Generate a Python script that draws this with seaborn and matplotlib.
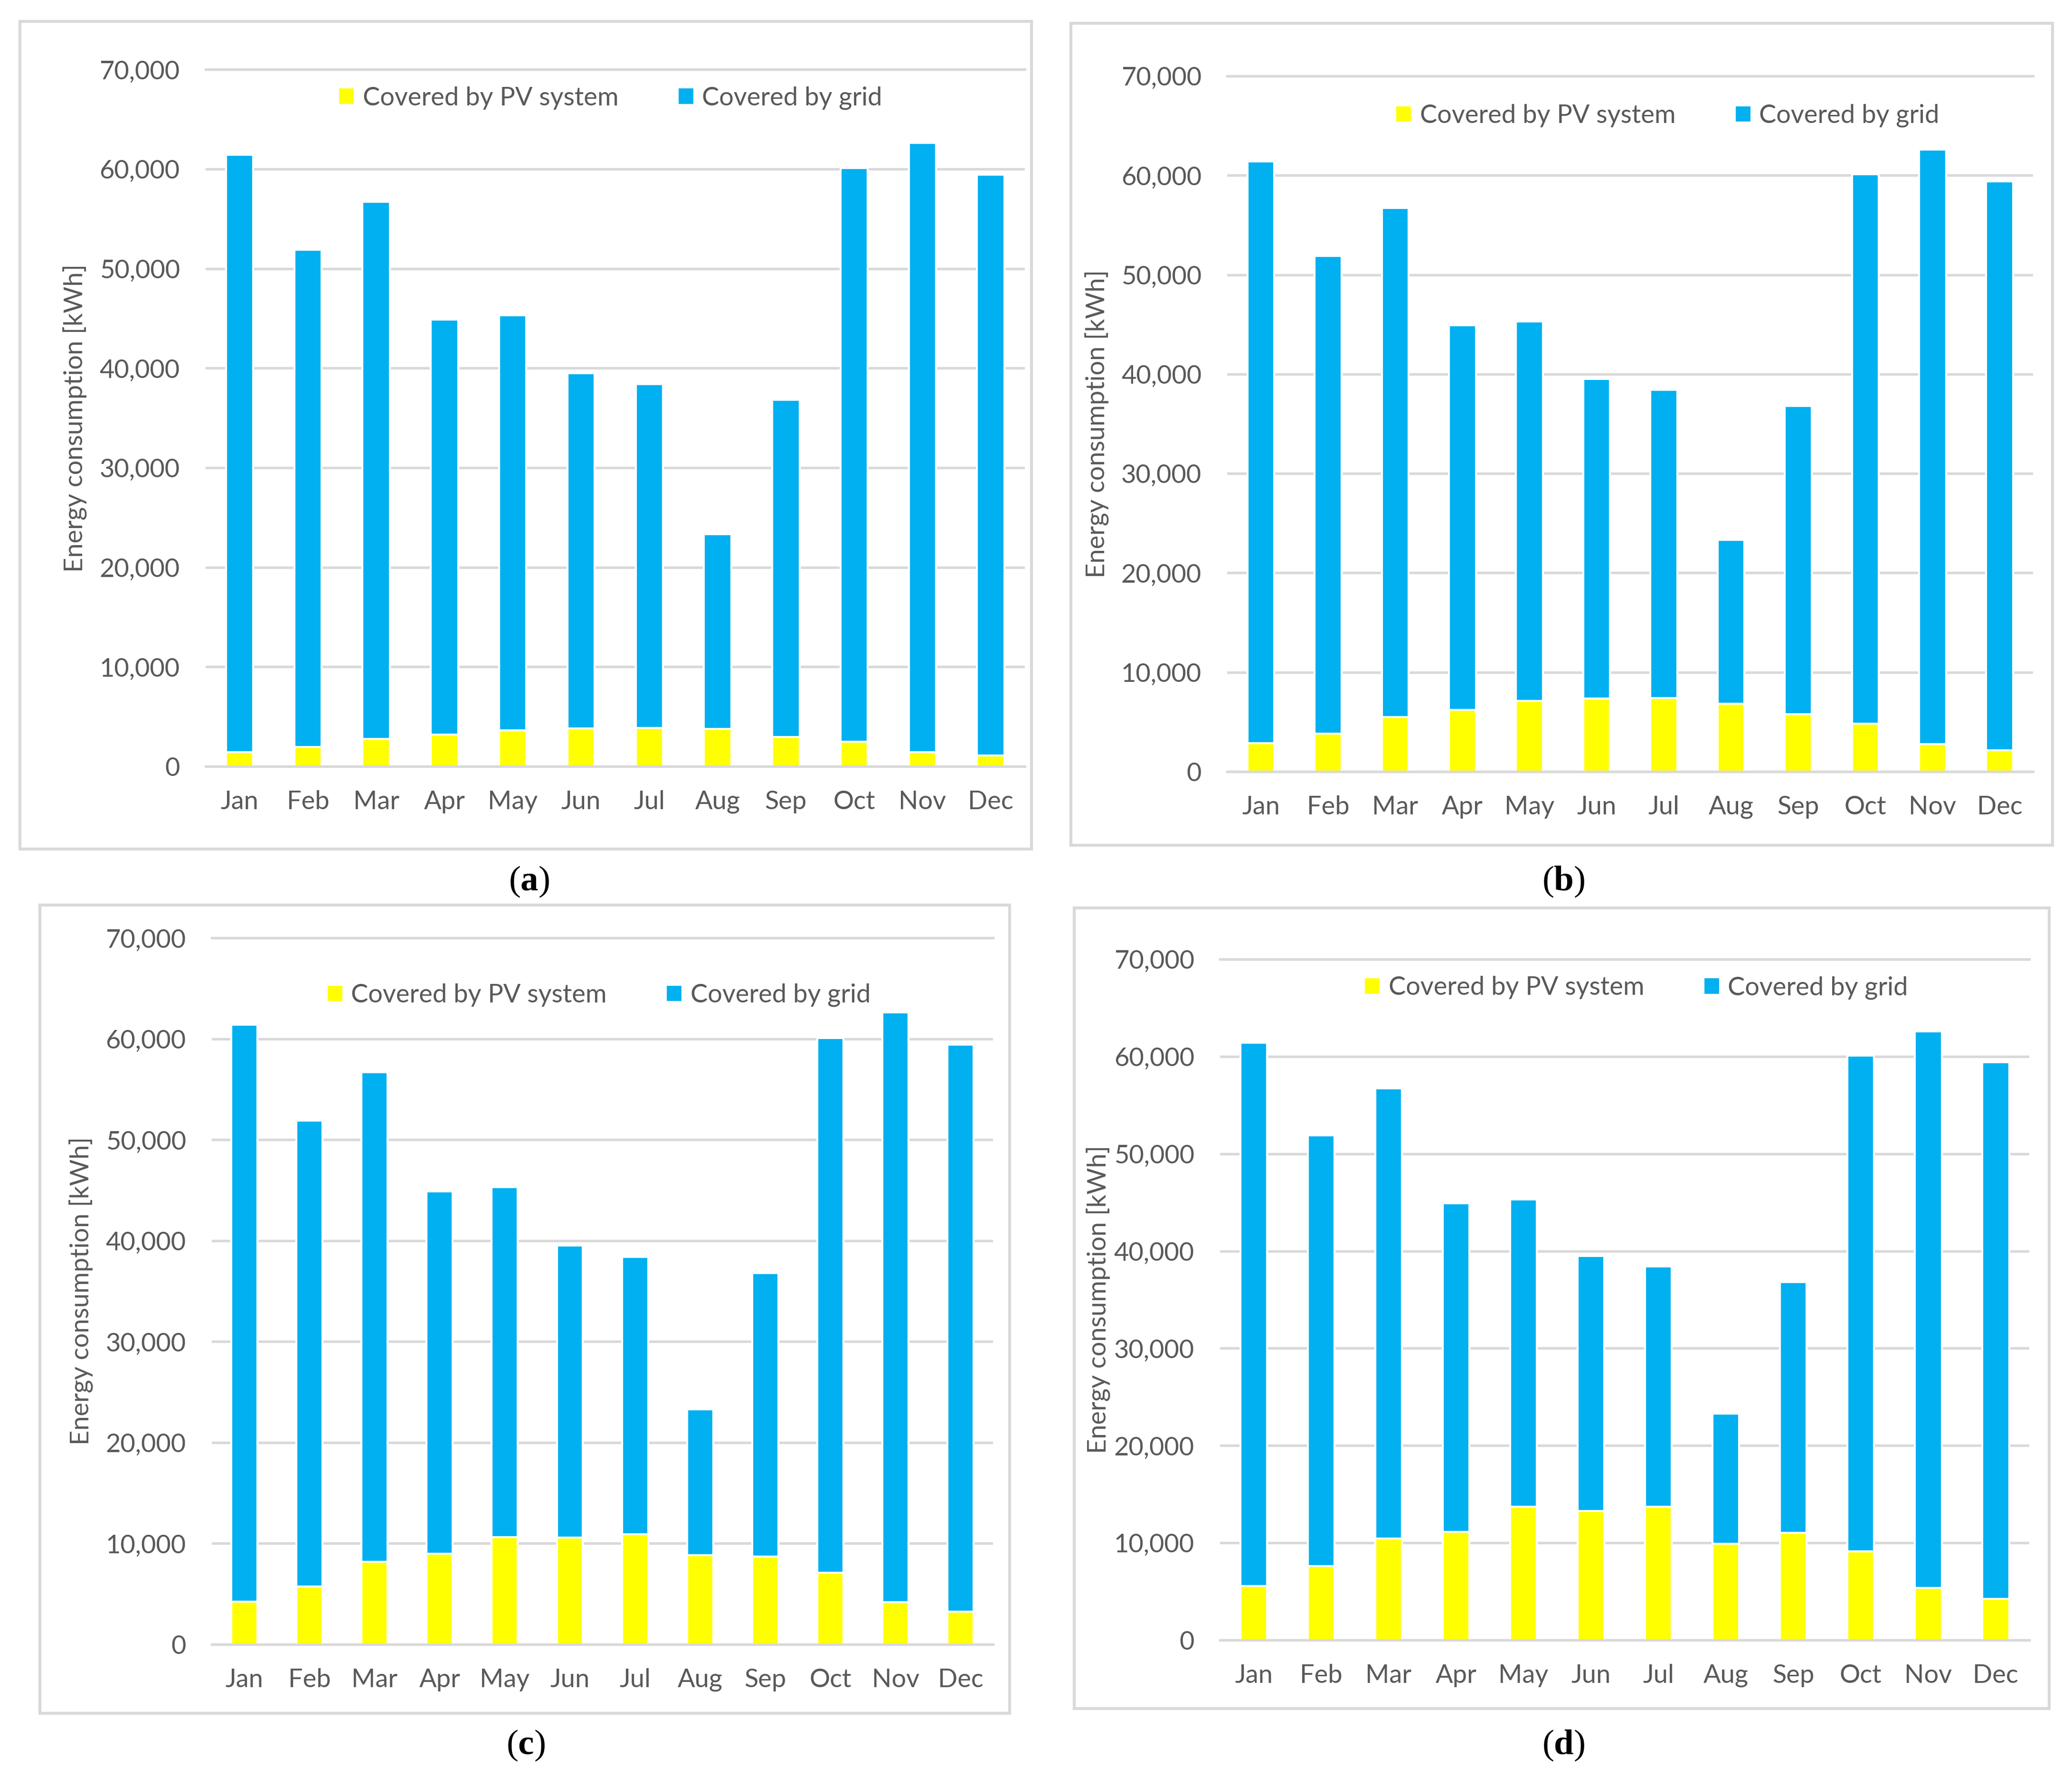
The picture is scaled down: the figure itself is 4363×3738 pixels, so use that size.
import matplotlib
matplotlib.use("Agg")
import matplotlib.pyplot as plt
import matplotlib.ticker as mticker
from matplotlib.patches import Rectangle
import seaborn as sns

months = ["Jan", "Feb", "Mar", "Apr", "May", "Jun", "Jul", "Aug", "Sep", "Oct", "Nov", "Dec"]

# total monthly consumption (same in all four scenarios)
total_kwh = [61400, 51900, 56700, 44900, 45300, 39500, 38400, 23300, 36800, 60100, 62600, 59400]

# part covered by the PV system, per scenario
pv_a = [1450, 1970, 2780, 3180, 3640, 3820, 3880, 3760, 2950, 2490, 1450, 1100]
pv_b = [2840, 3830, 5510, 6210, 7130, 7370, 7420, 6840, 5800, 4810, 2780, 2150]
pv_c = [4250, 5750, 8160, 8990, 10610, 10560, 10890, 8830, 8720, 7090, 4190, 3240]
pv_d = [5570, 7600, 10440, 11140, 13690, 13280, 13690, 9920, 11020, 9110, 5390, 4230]

panel_labels = ["a", "b", "c", "d"]

BLUE = "#00B0F0"
YELLOW = "#FFFF00"
GRID = "#D9D9D9"
TEXT = "#595959"

sns.set_theme(style="white")
plt.rcParams["font.family"] = ["Lato", "DejaVu Sans"]
plt.rcParams["mathtext.fontset"] = "custom"
plt.rcParams["mathtext.rm"] = "Liberation Serif"
plt.rcParams["mathtext.bf"] = "Liberation Serif:bold"

fig = plt.figure(figsize=(4363 / 300, 3738 / 300), dpi=300)

# axes rect, panel frame, legend anchor, ylabel x, panel label position
layout = [
    dict(ax=[0.0992, 0.5682, 0.3954, 0.3927], frame=[0.0096, 0.5217, 0.4882, 0.4663],
         leg=(0.494, 0.959), ylab=0.0362, lab=(0.2554, 0.5032)),
    dict(ax=[0.5923, 0.5653, 0.3890, 0.3919], frame=[0.5168, 0.5238, 0.4738, 0.4631],
         leg=(0.546, 0.943), ylab=0.5296, lab=(0.7545, 0.5032)),
    dict(ax=[0.1022, 0.0736, 0.3771, 0.3980], frame=[0.0193, 0.0348, 0.4680, 0.4553],
         leg=(0.495, 0.919), ylab=0.0393, lab=(0.2537, 0.0166)),
    dict(ax=[0.5888, 0.0760, 0.3906, 0.3836], frame=[0.5184, 0.0375, 0.4706, 0.4510],
         leg=(0.514, 0.958), ylab=0.5302, lab=(0.7545, 0.0166)),
]

for pv, spec, letter in zip([pv_a, pv_b, pv_c, pv_d], layout, panel_labels):
    ax = fig.add_axes(spec["ax"])
    sns.barplot(x=months, y=total_kwh, color=BLUE, saturation=1, width=0.4,
                ax=ax, label="Covered by grid")
    sns.barplot(x=months, y=pv, color=YELLOW, saturation=1, width=0.4,
                ax=ax, label="Covered by PV system")

    ax.set_ylim(0, 70000)
    ax.set_xlim(-0.5, 11.5)
    ax.yaxis.set_major_locator(mticker.MultipleLocator(10000))
    ax.yaxis.set_major_formatter(mticker.StrMethodFormatter("{x:,.0f}"))
    ax.yaxis.grid(True, color=GRID, linewidth=1.3)
    ax.set_axisbelow(True)
    for side in ["left", "right"]:
        ax.spines[side].set_visible(False)
    for side in ["top", "bottom"]:
        ax.spines[side].set_color(GRID)
        ax.spines[side].set_linewidth(1.3)
    ax.tick_params(axis="both", length=0, labelsize=13, colors=TEXT)
    ax.tick_params(axis="y", pad=13)
    ax.tick_params(axis="x", pad=12)
    ax.set_xlabel("")
    ax.set_ylabel("")

    handles, labels = ax.get_legend_handles_labels()
    ax.legend(handles[::-1], labels[::-1], loc="center", bbox_to_anchor=spec["leg"],
              ncol=2, frameon=False, fontsize=13, labelcolor=TEXT,
              handlelength=0.65, handleheight=0.65, handletextpad=0.3,
              columnspacing=2.3)

    axpos = spec["ax"]
    fig.text(spec["ylab"], axpos[1] + axpos[3] / 2, "Energy consumption [kWh]",
             rotation=90, ha="center", va="center", fontsize=13, color=TEXT)

    fx, fy, fw, fh = spec["frame"]
    fig.add_artist(Rectangle((fx, fy), fw, fh, transform=fig.transFigure,
                             fill=False, edgecolor=GRID, linewidth=1.5))

    fig.text(spec["lab"][0], spec["lab"][1], r"($\mathbf{" + letter + r"}$)",
             ha="center", va="center", fontsize=18, color="black",
             family="Liberation Serif")

fig.savefig("out.png", dpi=300, facecolor="white")
